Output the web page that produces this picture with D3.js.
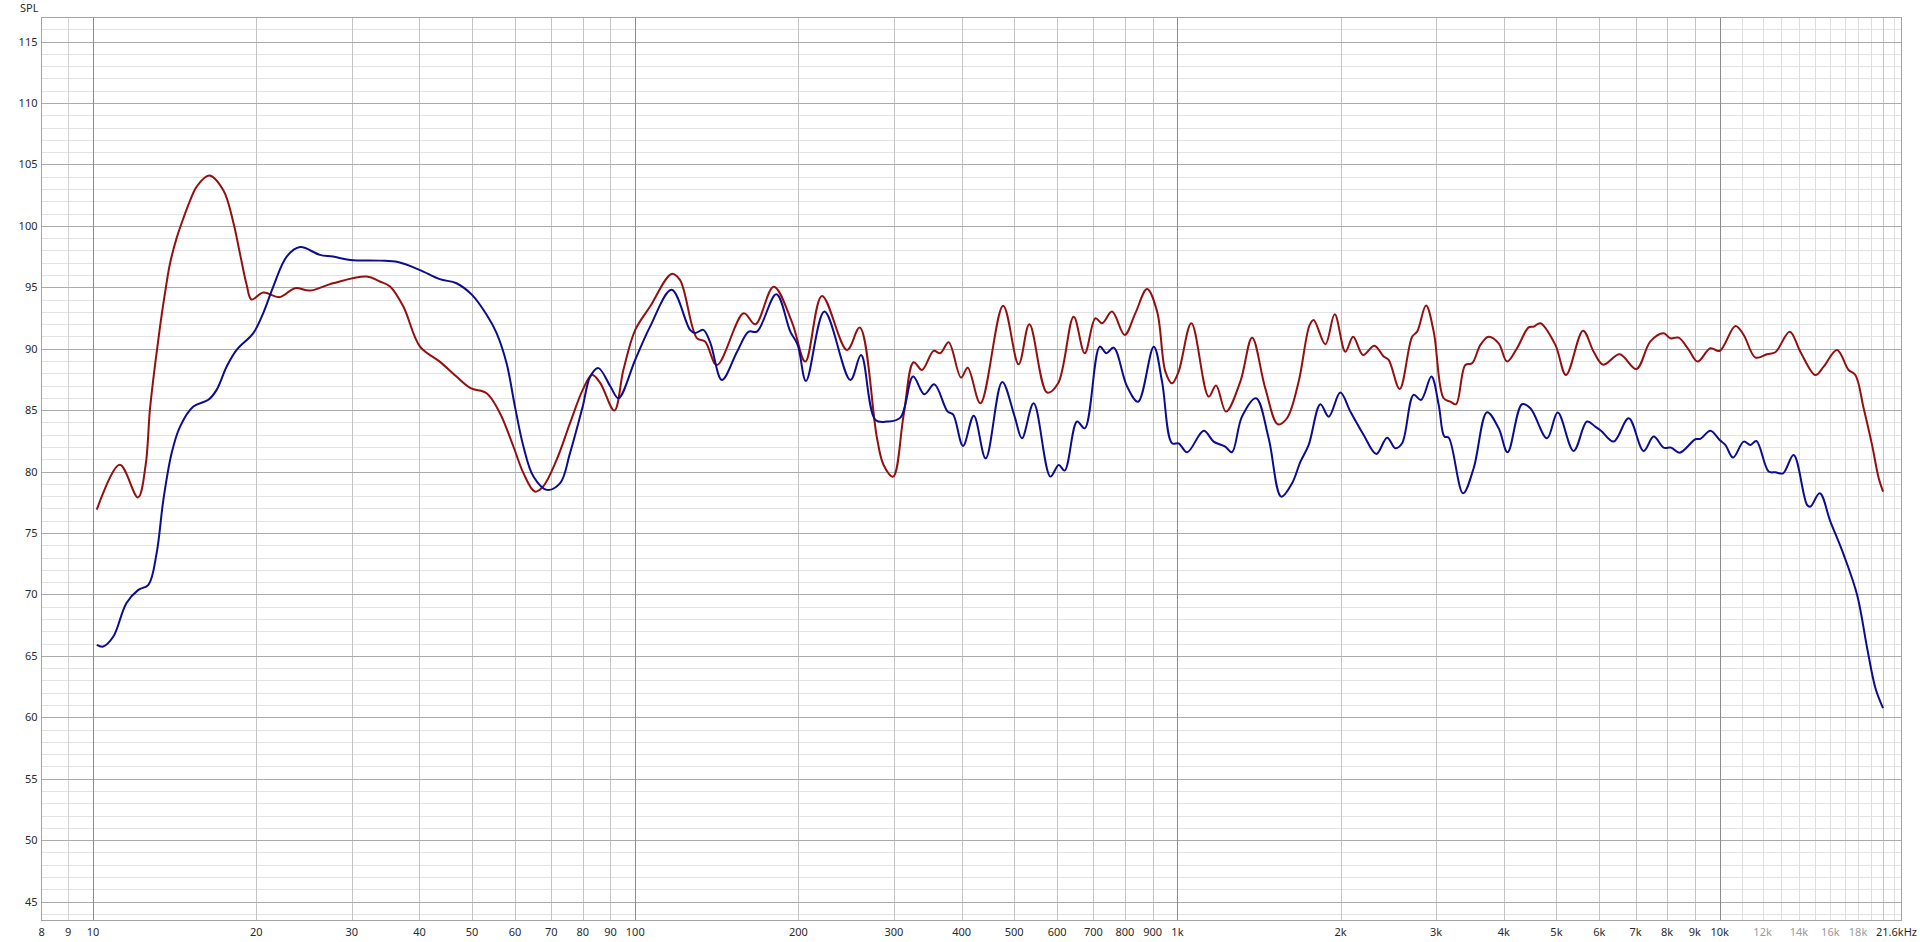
<!DOCTYPE html>
<html>
<head>
<meta charset="utf-8">
<script src="https://cdn.jsdelivr.net/npm/d3@7"></script>
<style>
  html, body { margin: 0; padding: 0; background: #ffffff; }
  svg { display: block; }
  text { font-family: "Segoe UI", "Noto Sans", "DejaVu Sans", sans-serif; font-size: 11px; fill: #2a2a2a; }
</style>
</head>
<body>
<svg id="chart" width="1920" height="942"></svg>
<script>
// ---------- data ----------
const yTicks = [45, 50, 55, 60, 65, 70, 75, 80, 85, 90, 95, 100, 105, 110, 115];
const xTickValues = [8, 9, 10, 20, 30, 40, 50, 60, 70, 80, 90, 100, 200, 300, 400, 500, 600, 700, 800, 900,
  1000, 2000, 3000, 4000, 5000, 6000, 7000, 8000, 9000, 10000, 12000, 14000, 16000, 18000];
const xTickLabels = ["8", "9", "10", "20", "30", "40", "50", "60", "70", "80", "90", "100", "200", "300", "400", "500",
  "600", "700", "800", "900", "1k", "2k", "3k", "4k", "5k", "6k", "7k", "8k", "9k", "10k", "12k", "14k", "16k", "18k"];
const xEndLabel = "21.6kHz";
const yAxisTitle = "SPL";

const redFreq = [10.16, 11.2, 12.1, 12.5, 12.73, 13.0, 13.29, 13.57, 13.86, 14.26, 14.67, 15.08, 15.53, 16.38, 17.39,
  18.14, 18.67, 19.2, 19.6,
  20.6, 22.1, 23.58, 25.1, 27.7, 31.98, 33.8, 35.3, 37.35, 40.1, 43.6, 46.8, 49.7, 53.2, 56.3, 59.6, 62.2, 65.3, 67.6,
  71.6, 75.8, 80, 83.2, 86.2, 91.5, 95.1, 100, 106.5, 116.7, 120.9, 129.9, 134.5, 141.5, 158.5, 166.5, 180, 194.6,
  205.9, 221, 245.8, 259.4, 279.2, 287.1, 298.9, 312.6, 326.2, 338, 355, 365.3, 378.4, 398.9, 410.3, 433.1, 477,
  509.4, 533.2, 574.9, 602.5, 643.6, 674.5, 705.9, 726.2, 757.5, 799.1, 836.1, 878.9, 917.3, 950.1, 977.2, 1005,
  1061, 1141.7, 1178, 1229, 1306, 1373, 1452, 1532, 1592, 1673, 1752, 1783, 1874, 1950, 2040, 2109, 2199, 2308,
  2401, 2452, 2570, 2709, 2767, 2874, 2969, 3097, 3187, 3264, 3396, 3494, 3620, 3749, 3912, 4054, 4229, 4443, 4539,
  4670, 4977, 5208, 5598, 5856, 6100, 6540, 7021, 7452, 7883, 8111, 8403, 8766, 9107, 9613, 10000, 10690, 11075,
  11640, 12230, 12670, 13464, 14087, 15015, 15553, 16463, 17290, 17795, 18432, 19100, 19650, 20016];
const redSpl = [76.9, 80.55, 77.9, 80.5, 85.0, 88.55, 91.8, 94.5, 96.9, 99.0, 100.6, 102.0, 103.2, 104.1, 102.9,
  100.3, 97.7, 95.2, 94.0,
  94.57, 94.2, 94.93, 94.73, 95.33, 95.87, 95.47, 95.06, 93.43, 90.17, 88.95, 87.73, 86.79, 86.38, 84.75, 82.04, 79.87,
  78.37, 78.78, 80.95, 83.94, 86.65, 87.87, 87.2, 84.97, 88.28, 91.53, 93.43, 96.09, 95.6, 90.86, 90.58, 88.68, 92.88,
  91.99, 95.05, 92.15, 88.95, 94.3, 89.9, 91.72, 82.71, 80.54, 79.59, 84.6, 88.9, 88.27, 89.82, 89.63, 90.52, 87.65,
  88.46, 85.56, 93.5, 88.73, 91.99, 86.43, 87.19, 92.61, 89.63, 92.48, 92.07, 93.02, 91.12, 92.88, 94.86, 93.02,
  88.14, 87.19, 88.14, 92.07, 86.1, 87.0, 84.88, 87.32, 90.9, 86.78, 83.85, 84.34, 87.32, 91.9, 92.34, 90.36, 92.8,
  89.76, 90.98, 89.49, 90.25, 89.36, 89.09, 86.73, 90.98, 91.39, 93.51, 91.39, 85.97, 85.69, 85.48, 88.68, 88.81,
  90.31, 90.98, 90.44, 88.95, 90.04, 91.74, 91.8, 92.07, 90.31, 87.86, 91.47, 89.76, 88.7, 89.55, 88.35, 90.6, 91.26,
  90.85, 90.9, 89.92, 88.95, 90.04, 89.82, 91.85, 91.12, 89.28, 89.55, 89.71, 91.39, 89.76, 87.86, 88.54, 89.9, 88.27,
  87.86, 85.15, 82.17, 79.45, 78.37];

const blueFreq = [10.16, 10.44, 10.9, 11.52, 12.12, 12.65, 13.1, 13.48, 13.96, 14.47, 15.31, 16.32, 16.9, 17.64, 18.4,
  19.75, 20.6, 21.5, 22.76, 24.1, 26.2, 27.7, 29.8, 33.8, 36.5, 40, 43.6, 46.8, 50, 53.2, 55.5, 57.9, 60, 62.2, 64.9,
  68.7, 72.7, 75.8, 80, 82.6, 85.5, 90, 93.1, 100, 106.5, 116.7, 126.2, 128.9, 133.5, 137.5, 144.5, 154.1, 161.9,
  167.7, 182, 193.2, 199.4, 206.5, 223.3, 249.3, 260.9, 277.3, 291.4, 308.3, 325.4, 341.4, 356, 376.9, 385.6, 402.3,
  421.1, 442.9, 475, 500.9, 516.6, 543, 583, 603.9, 619.4, 652.9, 674.5, 719, 739.6, 762.7, 807.5, 845.9, 904.2, 936.7,
  977.2, 1005, 1042, 1118, 1166, 1225, 1260, 1315, 1396, 1473, 1554, 1627, 1686, 1746, 1835, 1901, 1997, 2084, 2205,
  2327, 2436, 2523, 2596, 2726, 2813, 2940, 3033, 3107, 3164, 3363, 3518, 3724, 3912, 4064, 4320, 4477, 4804, 5027,
  5379, 5692, 5896, 6050, 6376, 6795, 7240, 7555, 7883, 8134, 8437, 9020, 9213, 9613, 10000, 10245, 10585, 11075,
  11394, 11688, 12315, 12670, 13092, 13690, 14497, 14702, 15295, 16006, 16937, 17929, 18710, 19380, 20016];
const blueSpl = [65.9, 65.76, 66.57, 69.29, 70.37, 70.78, 73.36, 77.7, 81.5, 83.66, 85.29, 85.84, 86.65, 88.55, 89.9,
  91.27, 92.9, 95.06, 97.5, 98.27, 97.64, 97.5, 97.23, 97.17, 97.05, 96.42, 95.66, 95.33, 94.38, 92.76, 91.27, 88.82,
  85.29, 82.04, 79.6, 78.51, 79.06, 81.5, 85.3, 87.73, 88.42, 86.92, 85.97, 89.1, 91.8, 94.79, 91.53, 91.27, 91.53,
  90.5, 87.46, 89.76, 91.39, 91.39, 94.43, 91.39, 90.3, 87.38, 93.02, 87.46, 89.49, 84.2, 84.07, 84.39, 87.73, 86.29,
  87.1, 84.88, 84.66, 82.09, 84.55, 81.08, 87.3, 84.47, 82.71, 85.56, 79.59, 80.54, 80.08, 84.07, 83.52, 90.17, 89.63,
  90.09, 86.92, 85.69, 90.17, 87.32, 82.3, 82.3, 81.57, 83.33, 82.44, 82.03, 81.57, 84.47, 85.97, 82.71, 77.96, 79.05,
  80.81, 82.17, 85.48, 84.47, 86.43, 84.88, 82.98, 81.44, 82.76, 81.9, 82.3, 86.24, 85.83, 87.73, 85.42, 82.85, 82.76,
  78.23, 80.27, 84.83, 83.52, 81.57, 85.48, 85.15, 82.71, 84.8, 81.68, 84.07, 83.66, 83.3, 82.44, 84.34, 81.68, 82.85,
  81.95, 81.95, 81.54, 82.63, 82.66, 83.33, 82.57, 82.17, 81.14, 82.44, 82.17, 82.49, 80.0, 79.94, 79.86, 81.35,
  77.28, 77.15, 78.23, 75.93, 73.22, 69.96, 65.62, 62.36, 60.74];

// ---------- layout ----------
const plotLeft = 40.5, plotRight = 1901, plotTop = 17, plotBottom = 920;
const x = d3.scaleLog().domain([8, 21600]).range([plotLeft, plotRight]);
const y = d3.scaleLinear().domain([43.5, 117]).range([plotBottom, plotTop]);
const px = v => Math.round(v) + 0.5;

const svg = d3.select("#chart");
const grid = svg.append("g").attr("shape-rendering", "crispEdges");

// horizontal minor grid (every 1 dB)
const minorY = d3.range(44, 117).filter(v => v % 5 !== 0);
grid.selectAll("line.hminor").data(minorY).enter().append("line")
  .attr("x1", plotLeft).attr("x2", plotRight)
  .attr("y1", d => px(y(d))).attr("y2", d => px(y(d)))
  .attr("stroke", "#e3e3e3").attr("stroke-width", 1);

// vertical grid lines
const vLines = [];
[10, 100, 1000].forEach(dec => { for (let m = 1; m <= 9; m++) vLines.push(dec * m); });
vLines.push(8, 9);
for (let k = 10; k <= 21; k++) vLines.push(k * 1000);
function vColor(f) {
  if (f === 10 || f === 100 || f === 1000 || f === 10000) return "#8c8c8c";
  if (f < 10) return "#d2d2d2";
  if (f === 20000) return "#c6c6c6";
  if (f > 10000) return "#dedede";
  return "#c4c4c4";
}
grid.selectAll("line.v").data(vLines.filter(f => vColor(f) !== "#8c8c8c")).enter().append("line")
  .attr("x1", d => px(x(d))).attr("x2", d => px(x(d)))
  .attr("y1", plotTop).attr("y2", plotBottom)
  .attr("stroke", d => vColor(d)).attr("stroke-width", 1);

// horizontal major grid (every 5 dB)
grid.selectAll("line.hmajor").data(yTicks).enter().append("line")
  .attr("x1", plotLeft).attr("x2", plotRight)
  .attr("y1", d => px(y(d))).attr("y2", d => px(y(d)))
  .attr("stroke", "#ababab").attr("stroke-width", 1);

// decade lines on top
grid.selectAll("line.vdec").data([10, 100, 1000, 10000]).enter().append("line")
  .attr("x1", d => px(x(d))).attr("x2", d => px(x(d)))
  .attr("y1", plotTop).attr("y2", plotBottom)
  .attr("stroke", "#8c8c8c").attr("stroke-width", 1);

// frame
grid.append("rect")
  .attr("x", px(plotLeft)).attr("y", px(plotTop))
  .attr("width", Math.round(plotRight) - Math.round(plotLeft)).attr("height", Math.round(plotBottom) - Math.round(plotTop))
  .attr("fill", "none").attr("stroke", "#a4a4a4");

// y axis labels
svg.append("g").selectAll("text").data(yTicks).enter().append("text")
  .attr("x", 37.5).attr("y", d => y(d)).attr("dy", "0.36em")
  .attr("text-anchor", "end").text(d => d);
svg.append("text").attr("x", 20).attr("y", 11.5).text(yAxisTitle);

// x axis labels
svg.append("g").selectAll("text").data(xTickValues).enter().append("text")
  .attr("x", d => x(d)).attr("y", 936)
  .attr("text-anchor", d => d === 8 ? "start" : "middle")
  .attr("dx", d => d === 8 ? -2 : 0)
  .style("fill", d => (d > 10000 ? "#9a9a9a" : "#2a2a2a"))
  .text((d, i) => xTickLabels[i]);
svg.append("text").attr("x", 1917).attr("y", 936).attr("text-anchor", "end").text(xEndLabel);

// curves
const line = d3.line()
  .x(d => x(d[0])).y(d => y(d[1]))
  .curve(d3.curveCatmullRom.alpha(0.5));
const redData = redFreq.map((f, i) => [f, redSpl[i]]);
const blueData = blueFreq.map((f, i) => [f, blueSpl[i]]);

svg.append("path").datum(redData).attr("d", line)
  .attr("fill", "none").attr("stroke", "#940f0f").attr("stroke-width", 2)
  .attr("stroke-linejoin", "round");
svg.append("path").datum(blueData).attr("d", line)
  .attr("fill", "none").attr("stroke", "#0c0c90").attr("stroke-width", 2)
  .attr("stroke-linejoin", "round");
</script>
</body>
</html>
